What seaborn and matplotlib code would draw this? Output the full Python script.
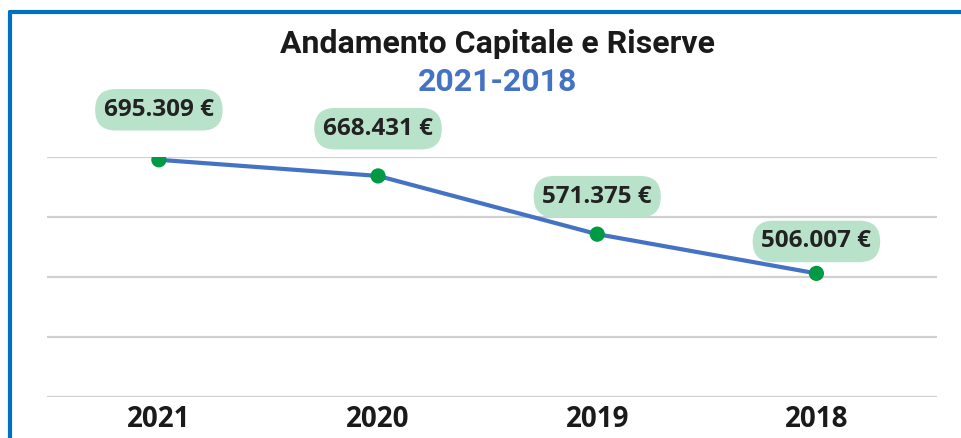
import pandas as pd
import numpy as np
import matplotlib.pyplot as plt
import seaborn as sns
from matplotlib.lines import Line2D

years = ['2021', '2020', '2019', '2018']
values = [695309, 668431, 571375, 506007]
labels = ['695.309 €', '668.431 €', '571.375 €', '506.007 €']
label_offsets = [36, 34, 27, 23]  # points above each marker

df = pd.DataFrame({'pos': range(len(years)), 'year': years, 'value': values})

sns.set_style('white')
plt.rcParams['font.family'] = ['Open Sans', 'DejaVu Sans']

fig = plt.figure(figsize=(9.61, 4.38), dpi=100)
ax = fig.add_axes([0.049, 0.0936, 0.926, 0.548])

sns.lineplot(data=df, x='pos', y='value', color='#4472C4', linewidth=3, ax=ax, zorder=3)
sns.scatterplot(data=df, x='pos', y='value', color='#009A44', s=120, edgecolor='none', ax=ax, zorder=4)

for i, (v, lab) in enumerate(zip(values, labels)):
    ax.annotate(lab, (i, v), xytext=(0, label_offsets[i]), textcoords='offset points',
                ha='center', va='center', fontsize=17.5, fontweight='bold', fontstretch='condensed',
                color='#222222', annotation_clip=False,
                bbox=dict(boxstyle='round,pad=0.36,rounding_size=0.85', fc='#B9E2CB', ec='none'))

ax.set_ylim(300000, 700000)
ax.set_xlim(-0.51, 3.55)
ax.set_yticks(np.arange(300000, 700001, 100000))
ax.set_yticklabels([])
ax.set_xticks(range(len(years)))
ax.set_xticklabels(years, fontsize=20, fontweight='bold', fontstretch='condensed', color='#1a1a1a')
ax.tick_params(axis='both', length=0, pad=6)
ax.yaxis.grid(True, color='#D0D0D0', linewidth=1.6)
ax.set_axisbelow(True)
ax.set_xlabel('')
ax.set_ylabel('')
for s in ax.spines.values():
    s.set_visible(False)

title_font = ['Roboto', 'Lato', 'DejaVu Sans']
fig.text(0.518, 0.900, 'Andamento Capitale e Riserve', ha='center', va='center',
         fontsize=23, fontweight='bold', color='#1a1a1a', family=title_font)
fig.text(0.518, 0.813, '2021-2018', ha='center', va='center',
         fontsize=23, fontweight='bold', color='#4472C4', family=title_font)

# blue frame
fig.add_artist(Line2D([0.0104, 1.0], [0.9726, 0.9726], color='#0070C0', linewidth=3, transform=fig.transFigure))
fig.add_artist(Line2D([0.0104, 0.0104], [0.0, 0.9726], color='#0070C0', linewidth=3, transform=fig.transFigure))

fig.savefig('out.png', dpi=100)
